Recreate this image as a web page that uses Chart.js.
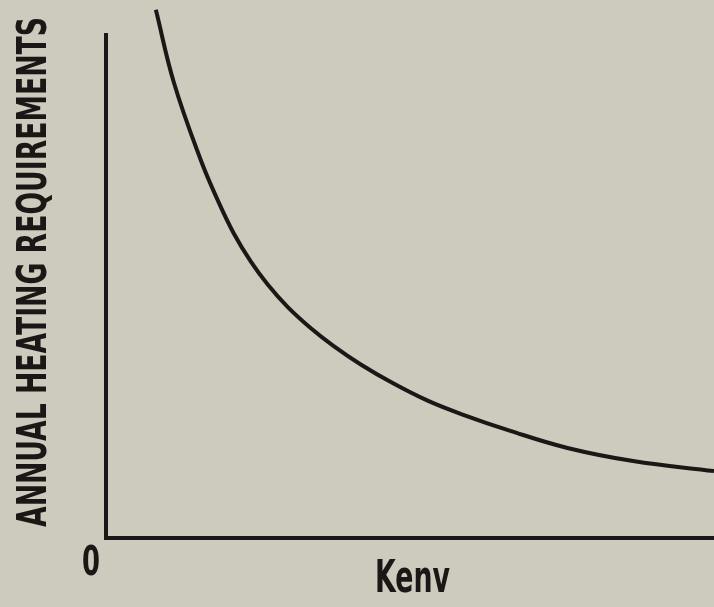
<!DOCTYPE html>
<html>
<head>
<meta charset="utf-8">
<script src="https://cdn.jsdelivr.net/npm/chart.js@4"></script>
<style>
  body { margin: 0; background: #cdcbbd; }
  canvas { display: block; }
</style>
</head>
<body>
<canvas id="heatChart" width="714" height="607"></canvas>
<script>
// values (arbitrary units, no tick marks on the original)
const kenvValues = [0.82, 1.12, 1.56, 1.84, 2.10, 2.38, 2.66, 2.99, 3.37, 3.74, 4.19, 4.73, 5.29, 5.83, 6.65, 7.59, 8.67, 10.0];
const heatingValues = [10.50, 9.04, 7.51, 6.71, 6.06, 5.50, 5.04, 4.59, 4.17, 3.82, 3.45, 3.07, 2.73, 2.47, 2.13, 1.79, 1.53, 1.33];
const yTitle = 'ANNUAL HEATING REQUIREMENTS';
const xTitle = 'Kenv';
const originLabel = '0';

const ink = '#1a1716';
const fontName = '"Liberation Sans Narrow", "DejaVu Sans Condensed", sans-serif';

// fit text to a given width (the original lettering is very condensed)
function fitText(ctx, text, x, y, width) {
  const w = ctx.measureText(text).width;
  ctx.save();
  ctx.translate(x, y);
  ctx.scale(width / w, 1);
  ctx.fillText(text, 0, 0);
  ctx.restore();
}

const labelsPlugin = {
  id: 'labels',
  afterDraw(chart) {
    const ctx = chart.ctx;
    ctx.save();
    ctx.fillStyle = ink;
    ctx.textBaseline = 'alphabetic';
    ctx.textAlign = 'left';

    // y title, rotated
    ctx.font = 'bold 41px ' + fontName;
    ctx.save();
    ctx.translate(46, 527);
    ctx.rotate(-Math.PI / 2);
    fitText(ctx, yTitle, 0, 0, 510);
    ctx.restore();

    // origin
    ctx.font = 'bold 41px ' + fontName;
    fitText(ctx, originLabel, 82, 575, 18);

    // x title
    ctx.font = 'bold 44px ' + fontName;
    fitText(ctx, xTitle, 375, 592, 75);
    ctx.restore();
  }
};

const data = {
  datasets: [{
    data: kenvValues.map((k, i) => ({ x: k, y: heatingValues[i] })),
    showLine: true,
    borderColor: ink,
    borderWidth: 4,
    pointRadius: 0,
    tension: 0.4,
    clip: false
  }]
};

new Chart(document.getElementById('heatChart'), {
  type: 'scatter',
  data,
  options: {
    responsive: false,
    animation: false,
    layout: { padding: { left: 98, right: 0, top: 35, bottom: 61 } },
    plugins: { legend: { display: false }, tooltip: { enabled: false } },
    scales: {
      x: {
        type: 'linear', min: 0, max: 10,
        ticks: { display: false },
        grid: { display: false },
        border: { display: true, color: ink, width: 4 }
      },
      y: {
        type: 'linear', min: 0, max: 10,
        ticks: { display: false },
        grid: { display: false },
        border: { display: true, color: ink, width: 4 }
      }
    }
  },
  plugins: [labelsPlugin]
});
</script>
</body>
</html>
